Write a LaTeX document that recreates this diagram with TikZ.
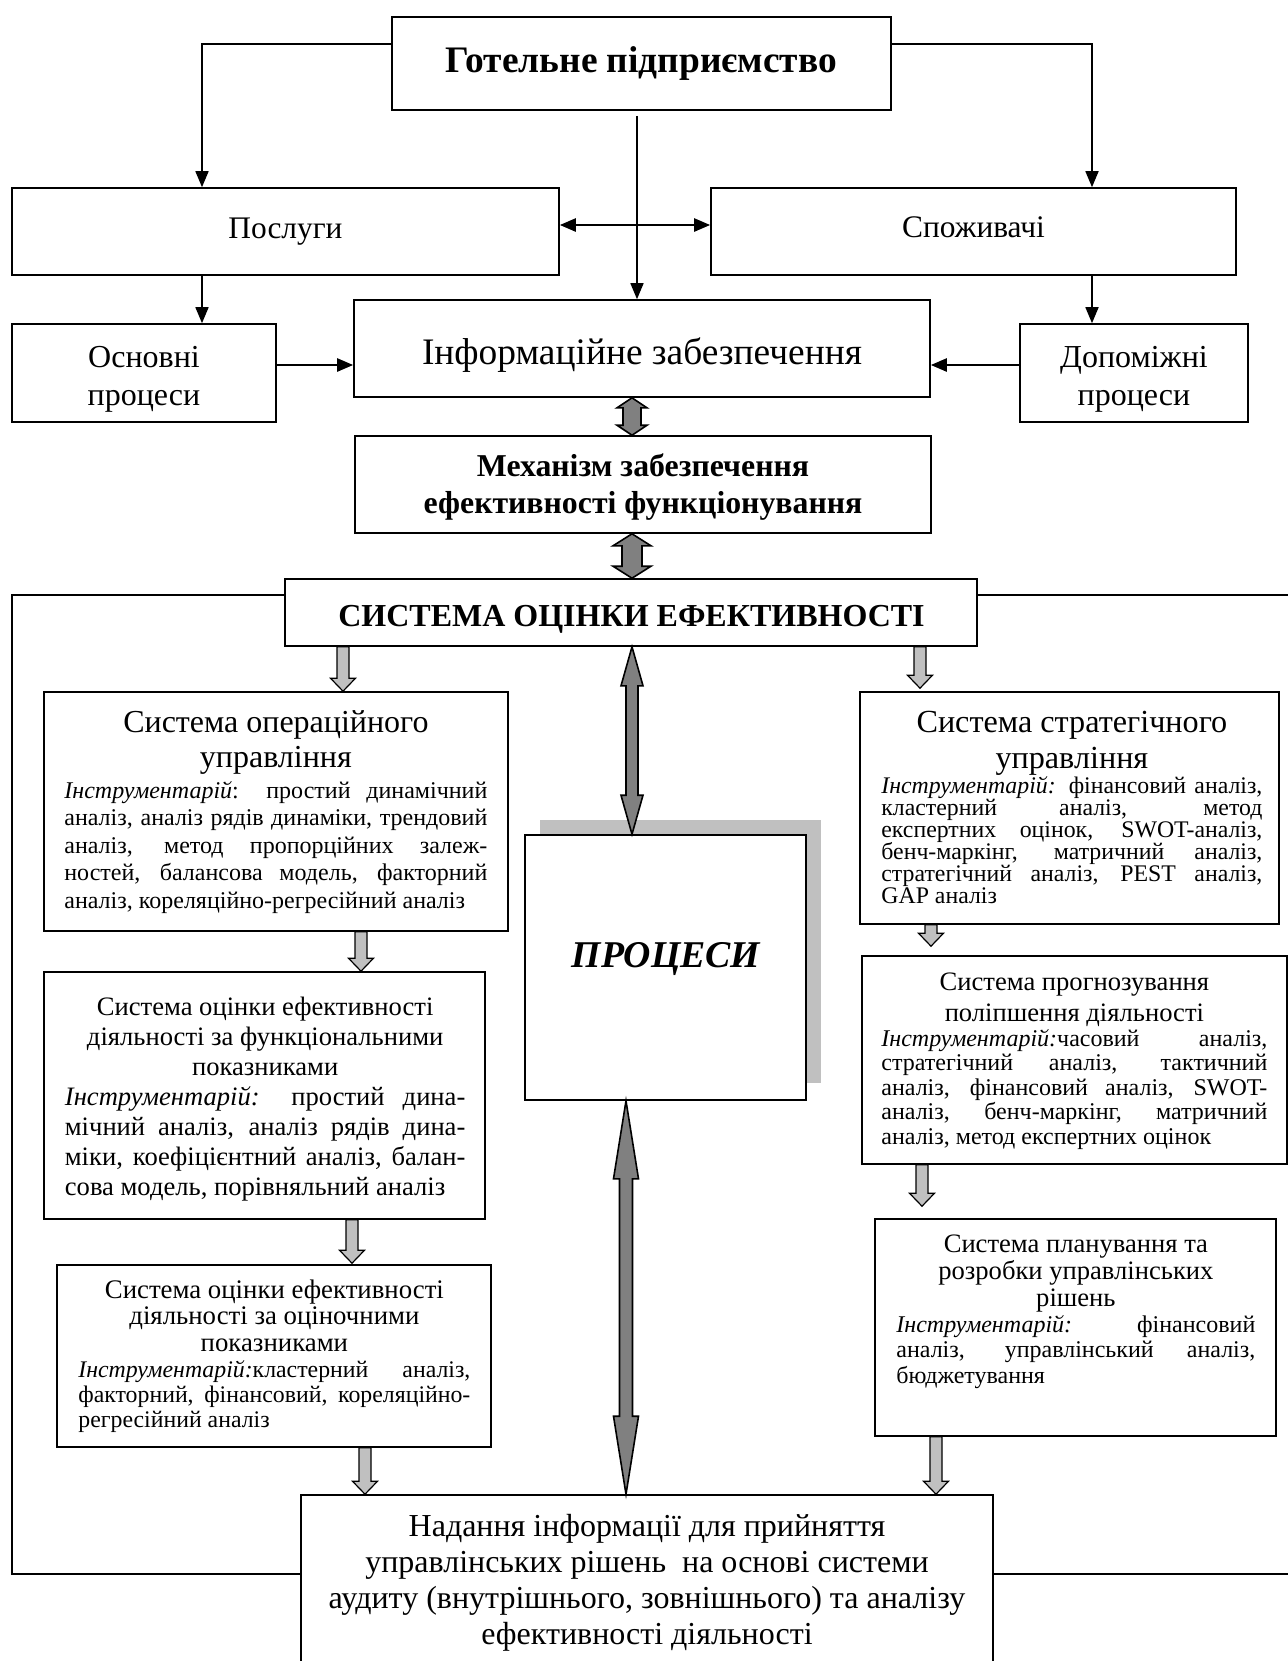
\documentclass[tikz,border=0pt]{standalone}
\usepackage{fontspec}
\setmainfont{Liberation Serif}
\usetikzlibrary{arrows.meta,calc,fit}
\definecolor{dgray}{HTML}{808080}
\definecolor{lgray}{HTML}{C0C0C0}
\definecolor{shadowc}{HTML}{C0C0C0}
\newcommand\jl[1]{\hbox to\hsize{#1}}
\newcommand\lastl[1]{\hbox to\hsize{#1\hfil}}
\newcommand\cl[1]{\hbox to\hsize{\hfil#1\hfil}}
\newcommand\blk[2]{\vtop{\hsize=#1\lineskiplimit=-\maxdimen\parindent=0pt #2}}
\newcommand\fs[2]{\fontsize{#1}{#2}\selectfont}
\newcommand\bsk[1]{\baselineskip=#1\relax}
\newcommand\ins[1]{\textit{#1}}
% double block arrow between two vertically stacked nodes
\newcommand\dblarr[7]{%
  \path (#1.south -| #3) coordinate (qa) (#2.north -| #3) coordinate (qb);
  \filldraw[fill=#7, draw=black, line width=0.8pt, line join=miter]
    (qa) -- ($(qa)+(#5,#6)$) -- ($(qa)+(#4,#6)$) -- ($(qb)+(#4,-#6)$) -- ($(qb)+(#5,-#6)$)
    -- (qb) -- ($(qb)+(-#5,-#6)$) -- ($(qb)+(-#4,-#6)$) -- ($(qa)+(-#4,#6)$) -- ($(qa)+(-#5,#6)$) -- cycle;}
% single down block arrow
\newcommand\sglarr[4]{%
  \path (#1.south -| #3) coordinate (qa) (#2.north -| #3) coordinate (qt);
  \path ($(qt)+(0,-#4)$) coordinate (qb);
  \filldraw[fill=lgray, draw=black, line width=0.6pt, line join=miter]
    ($(qa)+(-6,0)$) -- ($(qa)+(6,0)$) -- ($(qb)+(6,-13)$) -- ($(qb)+(12.5,-13)$) -- (qb)
    -- ($(qb)+(-12.5,-13)$) -- ($(qb)+(-6,-13)$) -- cycle;}
\begin{document}
\begin{tikzpicture}[x=0.5pt,y=-0.5pt,
  box/.style={draw, line width=0.8pt, inner sep=0pt, fill=white},
  arr/.style={-{Triangle[length=8pt,width=6.5pt]}, line width=0.8pt},
  arrb/.style={-{Triangle[length=8pt,width=6.5pt]}, line width=1.2pt},
  darr/.style={{Triangle[length=8pt,width=6.5pt]}-{Triangle[length=8pt,width=6.5pt]}, line width=1.2pt},
  txt/.style={anchor=base, inner sep=0pt},
  txtl/.style={anchor=base west, inner sep=0pt}]
\useasboundingbox (0,0) rectangle (1288,1661);
\clip (0,0) rectangle (1288,1661);
\fill[white] (0,0) rectangle (1288,1661);

% guide coordinates
\coordinate (tl) at (202,44);
\coordinate (tr) at (1092,44);
\coordinate (cx) at (637,0);
\coordinate (dy) at (0,225);
\coordinate (oy) at (0,365);
\coordinate (fTL) at (12,595);
\coordinate (fBL) at (12,1574);
\coordinate (fTR) at (1288,595);
\coordinate (fBR) at (1288,1574);
\coordinate (g632) at (632,0);
\coordinate (g626) at (626,0);
\coordinate (g343) at (343,0);
\coordinate (g920) at (920,0);
\coordinate (g361) at (361,0);
\coordinate (g352) at (352,0);
\coordinate (g365) at (365,0);
\coordinate (g931) at (931,0);
\coordinate (g922) at (922,0);
\coordinate (g936) at (936,0);

% boxes
\node[box, fit={(392,17) (891,110)}] (T) {};
\node[box, fit={(12,188) (559,275)}] (P) {};
\node[box, fit={(711,188) (1236,275)}] (S) {};
\node[box, fit={(12,324) (276,422)}] (O) {};
\node[box, fit={(1020,324) (1248,422)}] (D) {};
\node[box, fit={(354,300) (930,397)}] (I) {};
\node[box, fit={(355,436) (931,533)}] (M) {};
\node[box, fit={(285,579) (977,646)}] (SE) {};
\node[box, fit={(44,692) (508,931)}] (OP) {};
\node[box, fit={(44,972) (485,1219)}] (FN) {};
\node[box, fit={(57,1265) (491,1447)}] (EV) {};
\node[fill=shadowc, inner sep=0pt, fit={(540,820) (821,1083)}] (PRsh) {};
\node[box, fit={(525,835) (806,1100)}] (PR) {};
\node[box, fit={(860,692) (1279,924)}] (ST) {};
\node[box, fit={(862,956) (1287,1164)}] (PG) {};
\node[box, fit={(875,1219) (1276,1436)}] (PL) {};
\node[box, fit={(301,1495) (993,1700)}] (N) {};

% outer frame
\draw[line width=0.8pt] (SE.west |- fTL) -- (fTL) -- (fBL) -- (N.west |- fBL);
\draw[line width=0.8pt] (SE.east |- fTR) -- (fTR);
\draw[line width=0.8pt] (N.east |- fBR) -- (fBR);

% line connectors
\draw[arr] (T.west |- tl) -- (tl) -- (tl |- P.north);
\draw[arr] (T.east |- tr) -- (tr) -- (tr |- S.north);
\draw[arr, shorten <=2.5pt] (T.south -| cx) -- (I.north -| cx);
\draw[darr] (P.east |- dy) -- (S.west |- dy);
\draw[arr] (P.south -| tl) -- (O.north -| tl);
\draw[arr] (S.south -| tr) -- (D.north -| tr);
\draw[arrb] (O.east |- oy) -- (I.west |- oy);
\draw[arrb] (D.west |- oy) -- (I.east |- oy);

% block arrows
\dblarr{I}{M}{g632}{9}{15}{10}{dgray}
\dblarr{M}{SE}{g632}{10}{19}{12}{dgray}
\dblarr{SE}{PR}{g632}{6}{11}{39}{dgray}
\dblarr{PR}{N}{g626}{6.5}{12.5}{78}{dgray}
\sglarr{SE}{OP}{g343}{0}
\sglarr{SE}{ST}{g920}{3}
\sglarr{OP}{FN}{g361}{0}
\sglarr{FN}{EV}{g352}{1}
\sglarr{EV}{N}{g365}{0}
\sglarr{ST}{PG}{g931}{9}
\sglarr{PG}{PL}{g922}{12}
\sglarr{PL}{N}{g936}{0}

% texts
\node[txt] (Tt) at (641,72) {\fs{18.7}{22}\bfseries Готельне підприємство};
\node[txt] (Pt) at (285.5,238) {\fs{15.7}{19}Послуги};
\node[txt] (St) at (973.5,237) {\fs{15.7}{19}Споживачі};
\node[txt] (Ot) at (144,367) {\blk{120pt}{\fs{16}{19}\cl{Основні}\cl{процеси}}};
\node[txt] (Dt) at (1134,367) {\blk{120pt}{\fs{16}{19}\cl{Допоміжні}\cl{процеси}}};
\node[txt] (It) at (642,364) {\fs{18.7}{22}Інформаційне забезпечення};
\node[txt] (Mt) at (643,476) {\blk{280pt}{\fs{15.9}{18.5}\bfseries\cl{Механізм забезпечення}\cl{ефективності функціонування}}};
\node[txt] (SEt) at (631.5,626) {\fs{16}{20}\bfseries СИСТЕМА ОЦІНКИ ЕФЕКТИВНОСТІ};
\node[txt] (PRt) at (666,967) {\fs{18.9}{23}\bfseries\itshape ПРОЦЕСИ};

\node[txtl] (OPt) at (64,732) {\blk{211.5pt}{%
  \fs{16}{17.5}\cl{Система операційного}\cl{управління}%
  \fs{12}{15.5}\jl{\ins{Інструментарій}: простий динамічний}%
  \bsk{13.8pt}\jl{аналіз, аналіз рядів динаміки, трендовий}%
  \jl{аналіз, метод пропорційних залеж-}%
  \jl{ностей, балансова модель, факторний}%
  \lastl{аналіз, кореляційно-регресійний аналіз}}};

\node[txtl] (FNt) at (64.5,1015.6) {\blk{200.25pt}{%
  \fs{13.3}{15}\cl{Система оцінки ефективності}\cl{діяльності за функціональними}\cl{показниками}%
  \fs{13.3}{14.7}\jl{\ins{Інструментарій:} простий дина-}%
  \bsk{15.15pt}\jl{мічний аналіз, аналіз рядів дина-}%
  \jl{міки, коефіцієнтний аналіз, балан-}%
  \lastl{сова модель, порівняльний аналіз}}};

\node[txtl] (EVt) at (78,1298) {\blk{196pt}{%
  \fs{13.4}{13.4}\cl{Система оцінки ефективності}\cl{діяльності за оціночними}\cl{показниками}%
  \fs{11.9}{12.75}\jl{\ins{Інструментарій:}кластерний аналіз,}%
  \bsk{12.5pt}\jl{факторний, фінансовий, кореляційно-}%
  \lastl{регресійний аналіз}}};

\node[txtl] (STt) at (881,732) {\blk{190.5pt}{%
  \fs{16.1}{18}\cl{Система стратегічного}\cl{управління}%
  \fs{11.9}{12.5}\jl{\ins{Інструментарій:} фінансовий аналіз,}%
  \bsk{11pt}\jl{кластерний аналіз, метод}%
  \jl{експертних оцінок, SWOT-аналіз,}%
  \jl{бенч-маркінг, матричний аналіз,}%
  \jl{стратегічний аналіз, PEST аналіз,}%
  \lastl{GAP аналіз}}};

\node[txtl] (PGt) at (881,990) {\blk{193pt}{%
  \fs{13.3}{15.5}\cl{Система прогнозування}\cl{поліпшення діяльності}%
  \fs{12}{12.5}\jl{\ins{Інструментарій:}часовий аналіз,}%
  \bsk{12.3pt}\jl{стратегічний аналіз, тактичний}%
  \jl{аналіз, фінансовий аналіз, SWOT-}%
  \jl{аналіз, бенч-маркінг, матричний}%
  \lastl{аналіз, метод експертних оцінок}}};

\node[txtl] (PLt) at (896,1252) {\blk{179.5pt}{%
  \fs{13.3}{13.65}\cl{Система планування та}\cl{розробки управлінських}\cl{рішень}%
  \fs{12}{12.75}\jl{\ins{Інструментарій:} фінансовий}%
  \jl{аналіз, управлінський аналіз,}%
  \lastl{бюджетування}}};

\node[txt] (Nt) at (647,1536) {\blk{340pt}{\fs{16}{18}%
  \cl{Надання інформації для прийняття}%
  \cl{управлінських рішень \ на основі системи}%
  \cl{аудиту (внутрішнього, зовнішнього) та аналізу}%
  \cl{ефективності діяльності}}};
\end{tikzpicture}
\end{document}
